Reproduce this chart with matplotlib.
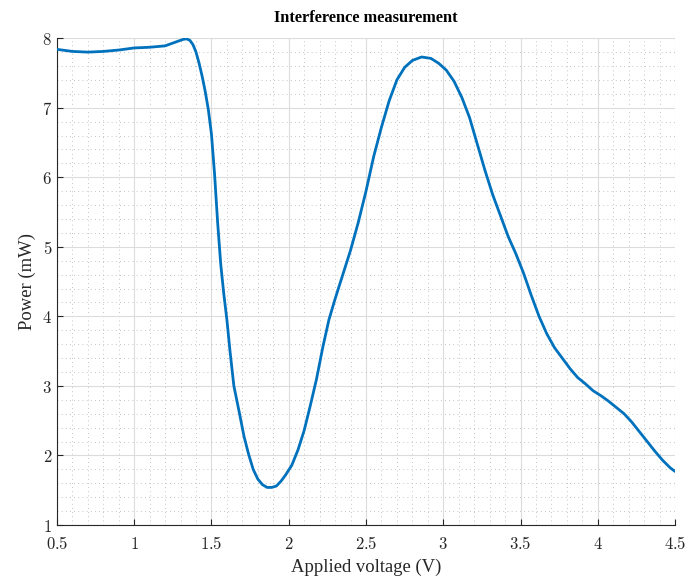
import matplotlib
matplotlib.use("Agg")
import matplotlib.pyplot as plt
from matplotlib.ticker import MultipleLocator

# voltage (V) and power (mW)
voltage = [0.5, 0.6, 0.7, 0.8, 0.9, 1.0, 1.1, 1.2, 1.25, 1.3, 1.32, 1.34, 1.36, 1.38,
           1.40, 1.42, 1.44, 1.46, 1.48, 1.50, 1.52, 1.54, 1.56, 1.58, 1.60, 1.62,
           1.645, 1.68, 1.71, 1.74, 1.77, 1.80, 1.83, 1.86, 1.89, 1.92, 1.95, 1.98,
           2.02, 2.06, 2.10, 2.14, 2.18, 2.22, 2.26, 2.30, 2.35, 2.40, 2.45, 2.50,
           2.55, 2.60, 2.65, 2.70, 2.75, 2.80, 2.86, 2.92, 2.97, 3.02, 3.07, 3.12,
           3.17, 3.22, 3.27, 3.32, 3.37, 3.42, 3.47, 3.52, 3.57, 3.62, 3.67, 3.72,
           3.77, 3.82, 3.87, 3.92, 3.97, 4.02, 4.07, 4.12, 4.17, 4.22, 4.27, 4.32,
           4.37, 4.42, 4.47, 4.5]
power = [7.84, 7.81, 7.80, 7.81, 7.83, 7.86, 7.87, 7.89, 7.93, 7.97, 7.985, 7.99, 7.97, 7.91,
         7.80, 7.64, 7.45, 7.23, 6.97, 6.62, 6.05, 5.35, 4.75, 4.32, 3.95, 3.50,
         3.00, 2.62, 2.28, 2.02, 1.80, 1.66, 1.58, 1.54, 1.54, 1.56, 1.63, 1.72,
         1.86, 2.08, 2.36, 2.72, 3.10, 3.55, 3.95, 4.25, 4.60, 4.95, 5.35, 5.80,
         6.30, 6.72, 7.10, 7.40, 7.58, 7.68, 7.73, 7.71, 7.64, 7.54, 7.38, 7.15,
         6.86, 6.48, 6.10, 5.75, 5.45, 5.15, 4.90, 4.62, 4.30, 4.00, 3.75, 3.55,
         3.40, 3.25, 3.12, 3.03, 2.93, 2.86, 2.78, 2.69, 2.60, 2.48, 2.34, 2.20,
         2.06, 1.93, 1.82, 1.77]

plt.rcParams['mathtext.fontset'] = 'cm'
plt.rcParams['axes.formatter.use_mathtext'] = True

fig = plt.figure(figsize=(6.86, 5.79), dpi=100)
ax = fig.add_axes([0.083, 0.0933, 0.901, 0.8407])

ax.plot(voltage, power, color='#0072BD', linewidth=2.0, zorder=3,
        solid_joinstyle='round', solid_capstyle='round')

ax.set_xlim(0.5, 4.5)
ax.set_ylim(1, 8)
ax.xaxis.set_minor_locator(MultipleLocator(0.1))
ax.yaxis.set_minor_locator(MultipleLocator(0.2))
ax.set_xticks([0.5, 1, 1.5, 2, 2.5, 3, 3.5, 4, 4.5])
ax.set_xticklabels(['$0.5$', '$1$', '$1.5$', '$2$', '$2.5$', '$3$', '$3.5$', '$4$', '$4.5$'])
ax.set_yticks(range(1, 9))
ax.set_yticklabels(['$%d$' % v for v in range(1, 9)])

ax.grid(which='major', color='#dcdcdc', linewidth=0.8, linestyle='-')
ax.grid(which='minor', color='#b0b0b0', linewidth=0.6, linestyle=(0, (1, 4)))
ax.set_axisbelow(True)

for s in ['top', 'right']:
    ax.spines[s].set_visible(False)
for s in ['left', 'bottom']:
    ax.spines[s].set_color('#262626')
    ax.spines[s].set_linewidth(0.8)
ax.tick_params(which='major', direction='in', length=4, width=0.8, color='#262626',
               labelsize=12, labelcolor='#262626')
ax.tick_params(which='minor', length=0)
ax.tick_params(axis='x', pad=7)

ax.set_xlabel('Applied voltage (V)', family='Liberation Serif', fontsize=13.4, color='#262626')
ax.set_ylabel('Power (mW)', family='Liberation Serif', fontsize=13.4, color='#262626')
ax.set_title('Interference measurement', family='Liberation Serif', fontweight='bold',
             fontsize=11.8, pad=12)

fig.savefig('out.png', dpi=100)
